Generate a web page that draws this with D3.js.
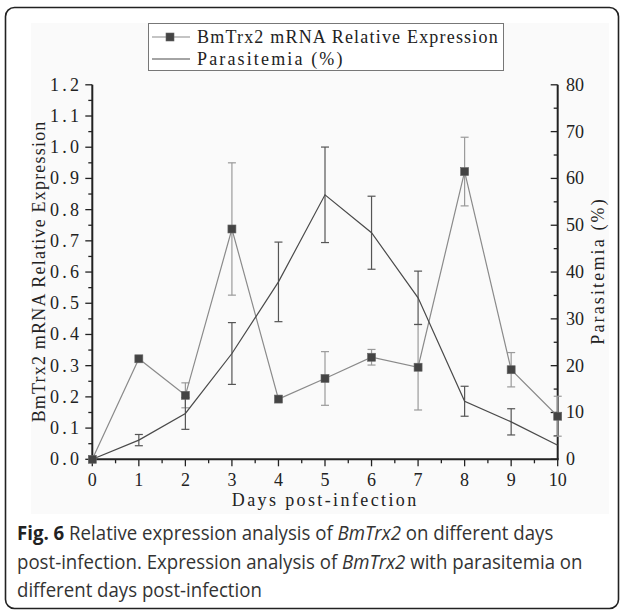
<!DOCTYPE html>
<html lang="en">
<head>
<meta charset="UTF-8">
<title>BmTrx2 expression and parasitemia</title>
<script src="https://d3js.org/d3.v7.min.js"></script>
<style>
    body { margin: 0; background: #fff; }
    svg { display: block; }
    .serif { font-family: "Liberation Serif", "DejaVu Serif", serif; fill: #222; }
    .cap { font-family: "Open Sans", "Noto Sans", sans-serif; fill: #333; }
</style>
</head>
<body>
<svg id="chart" width="624" height="611"></svg>
<script>
// data
var days = [0, 1, 2, 3, 4, 5, 6, 7, 8, 9, 10];
var expression = [0.0, 0.322, 0.205, 0.738, 0.193, 0.259, 0.327, 0.295, 0.922, 0.287, 0.138];
var expressionErr = [0, 0, 0.04, 0.212, 0, 0.086, 0.025, 0.137, 0.11, 0.055, 0.064];
var parasitemia = [0, 4.1, 9.8, 22.6, 37.9, 56.5, 48.4, 34.5, 12.4, 8.0, 3.0];
var parasitemiaErr = [0, 1.2, 3.4, 6.6, 8.5, 10.2, 7.8, 5.7, 3.2, 2.8, 0];
var leftTicks = [0, 0.1, 0.2, 0.3, 0.4, 0.5, 0.6, 0.7, 0.8, 0.9, 1.0, 1.1, 1.2];
var rightTicks = [0, 10, 20, 30, 40, 50, 60, 70, 80];

var svg = d3.select("#chart");
var charW = 9.7; // mono-ish advance of the original font

// card frame + figure background
svg.append("rect").attr("x", 5.5).attr("y", 7.5).attr("width", 613).attr("height", 601)
    .attr("rx", 9).attr("fill", "#fff").attr("stroke", "#222").attr("stroke-width", 1.6);
svg.append("rect").attr("x", 31).attr("y", 23).attr("width", 578).attr("height", 491)
    .attr("fill", "#fafafa");

var x = d3.scaleLinear().domain([0, 10]).range([92.3, 557.7]);
var yL = d3.scaleLinear().domain([0, 1.2]).range([459.3, 84.8]);
var yR = d3.scaleLinear().domain([0, 80]).range([459.3, 84.8]);

function monoText(sel, str) {
    sel.text(str).attr("textLength", str.length * charW).attr("lengthAdjust", "spacing");
    return sel;
}

// ticks
var g = svg.append("g").attr("stroke", "#222").attr("stroke-width", 1.3);
d3.range(0, 1.2001, 0.05).forEach(function(v, i) {
    var len = i % 2 === 0 ? 7 : 4;
    g.append("line").attr("x1", x(0) - len).attr("x2", x(0)).attr("y1", yL(v)).attr("y2", yL(v));
});
d3.range(0, 10.001, 0.5).forEach(function(v, i) {
    var len = i % 2 === 0 ? 7 : 4;
    g.append("line").attr("x1", x(v)).attr("x2", x(v)).attr("y1", yL(0)).attr("y2", yL(0) + len);
});
d3.range(0, 80.001, 5).forEach(function(v, i) {
    var len = i % 2 === 0 ? 7 : 4;
    g.append("line").attr("x1", x(10) - len).attr("x2", x(10)).attr("y1", yR(v)).attr("y2", yR(v));
});

// axis lines
var ax = svg.append("g").attr("stroke", "#222").attr("stroke-width", 2);
ax.append("line").attr("x1", x(0)).attr("x2", x(0)).attr("y1", yL(1.2)).attr("y2", yL(0));
ax.append("line").attr("x1", x(10)).attr("x2", x(10)).attr("y1", yR(80)).attr("y2", yR(0));
ax.append("line").attr("x1", x(0) - 1).attr("x2", x(10) + 1).attr("y1", yL(0)).attr("y2", yL(0));

// tick labels
leftTicks.forEach(function(v) {
    monoText(svg.append("text").attr("class", "serif").attr("font-size", 18)
        .attr("x", 79 - 29).attr("y", yL(v) + 6), d3.format(".1f")(v));
});
rightTicks.forEach(function(v) {
    svg.append("text").attr("class", "serif").attr("font-size", 18)
        .attr("x", 566).attr("y", yR(v) + 6).text(v);
});
days.forEach(function(d) {
    svg.append("text").attr("class", "serif").attr("font-size", 18).attr("text-anchor", "middle")
        .attr("x", x(d)).attr("y", 486).text(d);
});

// axis titles
monoText(svg.append("text").attr("class", "serif").attr("font-size", 18).attr("text-anchor", "middle")
    .attr("x", 324).attr("y", 506), "Days post-infection");
monoText(svg.append("text").attr("class", "serif").attr("font-size", 18).attr("text-anchor", "middle")
    .attr("transform", "translate(45,272) rotate(-90)"), "BmTrx2 mRNA Relative Expression");
monoText(svg.append("text").attr("class", "serif").attr("font-size", 18).attr("text-anchor", "middle")
    .attr("transform", "translate(604,272) rotate(-90)"), "Parasitemia (%)");

// error bars
function errBars(vals, errs, y, color) {
    var eg = svg.append("g").attr("stroke", color).attr("stroke-width", 1.2);
    days.forEach(function(d, i) {
        if (!errs[i]) return;
        var top = y(vals[i] + errs[i]), bot = y(vals[i] - errs[i]);
        eg.append("line").attr("x1", x(d)).attr("x2", x(d)).attr("y1", top).attr("y2", bot);
        eg.append("line").attr("x1", x(d) - 4).attr("x2", x(d) + 4).attr("y1", top).attr("y2", top);
        eg.append("line").attr("x1", x(d) - 4).attr("x2", x(d) + 4).attr("y1", bot).attr("y2", bot);
    });
}
errBars(expression, expressionErr, yL, "#9a9a9a");
errBars(parasitemia, parasitemiaErr, yR, "#555");

// lines
svg.append("path").datum(days)
    .attr("fill", "none").attr("stroke", "#8a8a8a").attr("stroke-width", 1.2)
    .attr("d", d3.line().x(function(d) { return x(d); }).y(function(d, i) { return yL(expression[i]); }));
svg.append("path").datum(days)
    .attr("fill", "none").attr("stroke", "#4a4a4a").attr("stroke-width", 1.2)
    .attr("d", d3.line().x(function(d) { return x(d); }).y(function(d, i) { return yR(parasitemia[i]); }));

// squares
svg.selectAll(".sq").data(days).enter().append("rect")
    .attr("class", "sq")
    .attr("x", function(d) { return x(d) - 4; })
    .attr("y", function(d, i) { return yL(expression[i]) - 4; })
    .attr("width", 8).attr("height", 8)
    .attr("fill", "#444").attr("stroke", "#666").attr("stroke-width", 0.6);

// legend
var lg = svg.append("g");
lg.append("rect").attr("x", 148.5).attr("y", 23.5).attr("width", 355).attr("height", 47)
    .attr("fill", "#fff").attr("stroke", "#777").attr("stroke-width", 1);
lg.append("line").attr("x1", 152).attr("x2", 190).attr("y1", 37).attr("y2", 37)
    .attr("stroke", "#8a8a8a").attr("stroke-width", 1.2);
lg.append("rect").attr("x", 166).attr("y", 33).attr("width", 8).attr("height", 8)
    .attr("fill", "#444").attr("stroke", "#666").attr("stroke-width", 0.6);
monoText(lg.append("text").attr("class", "serif").attr("font-size", 18)
    .attr("x", 197).attr("y", 43), "BmTrx2 mRNA Relative Expression");
lg.append("line").attr("x1", 152).attr("x2", 190).attr("y1", 59).attr("y2", 59)
    .attr("stroke", "#4a4a4a").attr("stroke-width", 1.2);
monoText(lg.append("text").attr("class", "serif").attr("font-size", 18)
    .attr("x", 197).attr("y", 65), "Parasitemia (%)");

// caption: one shared horizontal squeeze so the narrow face of the figure is imitated
var capLines = [
    [540, [["Fig. 6", "b"], [" Relative expression analysis of "], ["BmTrx2", "i"], [" on different days"]]],
    [569, [["post-infection. Expression analysis of "], ["BmTrx2", "i"], [" with parasitemia on"]]],
    [597, [["different days post-infection"]]]
];
var capTargets = [493, 571, 283];
var capNodes = capLines.map(function(l) {
    var t = svg.append("text").attr("class", "cap").attr("font-size", 20).attr("x", 0).attr("y", 0);
    l[1].forEach(function(p) {
        var s = t.append("tspan").text(p[0]);
        if (p[1] === "b") s.attr("font-weight", "bold").attr("fill", "#222");
        if (p[1] === "i") s.attr("font-style", "italic");
    });
    return t;
});
var natural = d3.sum(capNodes, function(t) { return t.node().getComputedTextLength(); });
var squeeze = d3.sum(capTargets) / natural;
capNodes.forEach(function(t, i) {
    t.attr("transform", "translate(17," + capLines[i][0] + ") scale(" + squeeze + ",1)");
});
</script>
</body>
</html>
